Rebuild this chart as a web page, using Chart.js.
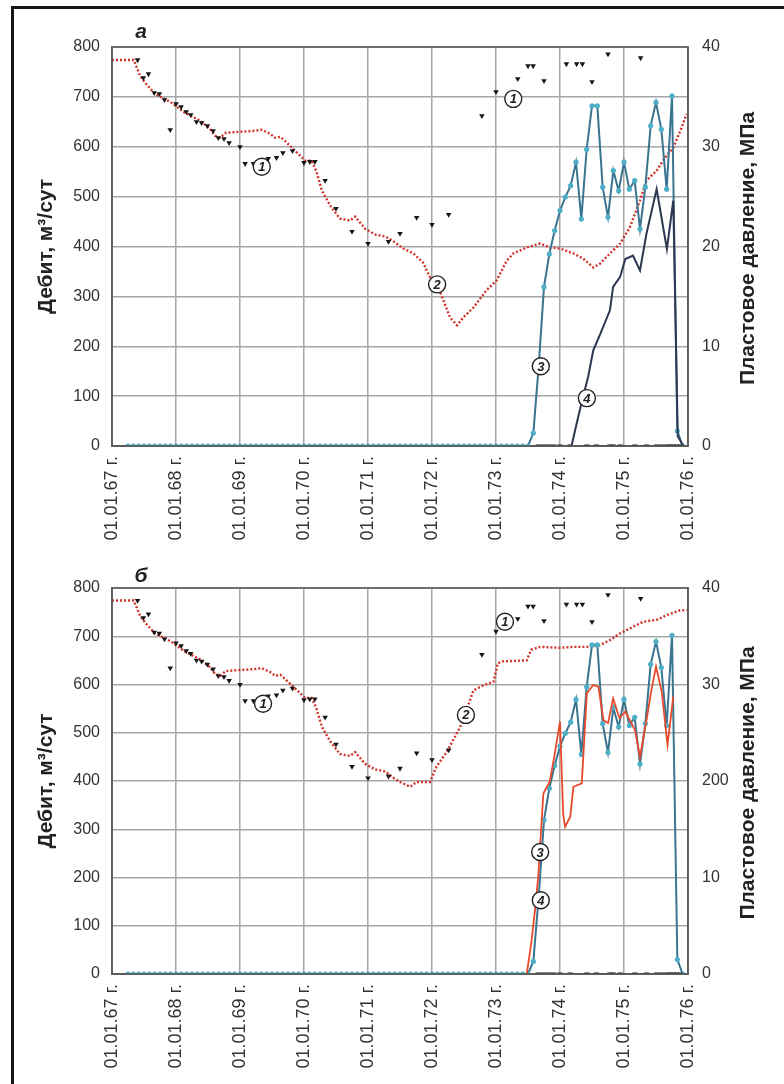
<!DOCTYPE html>
<html>
<head>
<meta charset="utf-8">
<script src="https://cdn.jsdelivr.net/npm/chart.js@4.4.1/dist/chart.umd.min.js"></script>
<style>
  body { margin: 0; background: #fff; width: 784px; height: 1084px; position: relative; overflow: hidden; }
  #frame { position: absolute; left: 11px; top: 6px; width: 900px; height: 1200px; border-left: 3px solid #161616; border-top: 3px solid #161616; }
  canvas { position: absolute; left: 0; }
  #chartA { top: 0; }
  #chartB { top: 545px; }
</style>
</head>
<body>
<div id="frame"></div>
<canvas id="chartA" width="784" height="545"></canvas>
<canvas id="chartB" width="784" height="539"></canvas>
<script>
// x axis: years, ticks on 1 January
const yearTicks = [1967, 1968, 1969, 1970, 1971, 1972, 1973, 1974, 1975, 1976];
const xTickLabels = ['01.01.67 г.', '01.01.68 г.', '01.01.69 г.', '01.01.70 г.', '01.01.71 г.',
    '01.01.72 г.', '01.01.73 г.', '01.01.74 г.', '01.01.75 г.', '01.01.76 г.'];
const rightTickLabelsA = ['0', '10', '20', '30', '40'];
const rightTickLabelsB = ['0', '10', '200', '30', '40'];

// (1) measured reservoir pressure, MPa
const measYears = [1967.40, 1967.49, 1967.57, 1967.66, 1967.74, 1967.82, 1967.91, 1968.00, 1968.08, 1968.16,
    1968.23, 1968.32, 1968.40, 1968.49, 1968.58, 1968.66, 1968.75, 1968.83, 1969.00, 1969.08,
    1969.21, 1969.44, 1969.57, 1969.67, 1969.82, 1970.00, 1970.09, 1970.17, 1970.33, 1970.50,
    1970.75, 1971.00, 1971.32, 1971.50, 1971.76, 1972.00, 1972.26, 1972.78, 1973.00, 1973.34,
    1973.50, 1973.58, 1973.75, 1974.10, 1974.26, 1974.35, 1974.50, 1974.75, 1975.26,
    1973.66, 1973.74, 1973.82, 1973.90, 1974.00, 1974.16, 1974.42, 1974.57, 1974.78, 1974.83,
    1974.94, 1975.17, 1975.35, 1975.51, 1975.59, 1975.67, 1975.72, 1975.77, 1975.82, 1975.88];
const measMPa = [38.7, 36.9, 37.3, 35.4, 35.3, 34.7, 31.7, 34.3, 34.0, 33.5,
    33.2, 32.5, 32.4, 32.1, 31.6, 30.9, 30.8, 30.4, 30.0, 28.3,
    28.3, 28.8, 28.9, 29.4, 29.6, 28.4, 28.5, 28.5, 26.6, 23.8,
    21.5, 20.3, 20.5, 21.3, 22.9, 22.2, 23.2, 33.1, 35.5, 36.8,
    38.1, 38.1, 36.6, 38.3, 38.3, 38.3, 36.5, 39.3, 38.9,
    0, 0, 0, 0, 0, 0, 0, 0, 0, 0,
    0, 0, 0, 0, 0, 0, 0, 0, 0, 0];

// (2) modelled reservoir pressure, MPa
const modelYearsA = [1967.00, 1967.34, 1967.44, 1967.52, 1967.67, 1967.91, 1968.14, 1968.38, 1968.53, 1968.61,
    1968.69, 1968.78, 1969.00, 1969.23, 1969.34, 1969.47, 1969.55, 1969.63, 1969.70, 1969.86,
    1970.02, 1970.12, 1970.19, 1970.28, 1970.41, 1970.56, 1970.72, 1970.80, 1970.95, 1971.11,
    1971.27, 1971.38, 1971.55, 1971.71, 1971.86, 1971.97, 1972.10, 1972.18, 1972.28, 1972.39,
    1972.49, 1972.65, 1972.85, 1973.01, 1973.17, 1973.27, 1973.48, 1973.69, 1973.84, 1974.00,
    1974.21, 1974.36, 1974.52, 1974.63, 1974.78, 1974.94, 1975.09, 1975.25, 1975.35, 1975.51,
    1975.64, 1975.77, 1975.88, 1975.98];
const modelMPaA = [38.7, 38.7, 37.1, 36.4, 35.3, 34.5, 33.4, 32.6, 31.8, 31.1,
    30.9, 31.4, 31.5, 31.6, 31.7, 31.3, 30.9, 31.0, 30.6, 29.6,
    28.6, 28.6, 27.6, 25.6, 24.1, 22.8, 22.6, 23.0, 21.8, 21.2,
    21.0, 20.6, 19.8, 19.3, 18.4, 16.9, 15.8, 14.6, 12.9, 12.1,
    12.9, 13.9, 15.6, 16.6, 18.6, 19.3, 19.9, 20.3, 19.9, 19.8,
    19.3, 18.8, 17.9, 18.3, 19.3, 20.3, 21.9, 24.6, 26.6, 27.6,
    28.9, 29.9, 31.6, 33.3];
const modelYearsB = [1967.00, 1967.34, 1967.44, 1967.52, 1967.67, 1967.91, 1968.14, 1968.38, 1968.53, 1968.61,
    1968.69, 1968.78, 1969.00, 1969.23, 1969.34, 1969.47, 1969.55, 1969.63, 1969.70, 1969.86,
    1970.02, 1970.12, 1970.19, 1970.28, 1970.41, 1970.56, 1970.72, 1970.80, 1970.95, 1971.11,
    1971.27, 1971.38, 1971.50, 1971.66, 1971.76, 1971.97, 1972.07, 1972.23, 1972.44, 1972.54,
    1972.65, 1972.80, 1972.96, 1973.03, 1973.11, 1973.48, 1973.55, 1973.69, 1974.00, 1974.21,
    1974.47, 1974.63, 1974.78, 1974.94, 1975.09, 1975.30, 1975.51, 1975.67, 1975.88, 1975.98];
const modelMPaB = [38.7, 38.7, 37.1, 36.4, 35.3, 34.5, 33.4, 32.6, 31.8, 31.1,
    30.9, 31.4, 31.5, 31.6, 31.7, 31.3, 30.9, 31.0, 30.6, 29.6,
    28.6, 28.6, 27.6, 25.6, 24.1, 22.8, 22.6, 23.0, 21.8, 21.2,
    21.0, 20.4, 19.9, 19.4, 19.9, 19.9, 21.5, 23.0, 25.6, 27.4,
    29.4, 29.9, 30.3, 32.2, 32.4, 32.5, 33.6, 33.9, 33.8, 33.9,
    33.9, 34.1, 34.6, 35.3, 35.8, 36.5, 36.7, 37.2, 37.7, 37.7];

// (3) measured flow rate, m3/day, one value per month starting April 1967
const flowStartMonth = 3;
const flowMeas = [
    0, 0, 0, 0, 0, 0, 0, 0, 0, 0, 0, 0, 0, 0, 0, 0, 0, 0, 0, 0,
    0, 0, 0, 0, 0, 0, 0, 0, 0, 0, 0, 0, 0, 0, 0, 0, 0, 0, 0, 0,
    0, 0, 0, 0, 0, 0, 0, 0, 0, 0, 0, 0, 0, 0, 0, 0, 0, 0, 0, 0,
    0, 0, 0, 0, 0, 0, 0, 0, 0, 0, 0, 0, 0, 0, 0, 0,
    26, 159, 319, 385, 432, 472, 499, 522, 569, 455,
    595, 682, 682, 519, 459, 552, 512, 569, 515, 532,
    435, 519, 642, 689, 635, 515, 702, 30, 0];

// (4) calculated flow rate, m3/day
const calcYearsA = [1974.18, 1974.26, 1974.36, 1974.44, 1974.52, 1974.63, 1974.78, 1974.83, 1974.94, 1975.02,
    1975.14, 1975.25, 1975.35, 1975.51, 1975.67, 1975.77, 1975.84, 1975.93];
const calcFlowA = [0, 45, 99, 139, 192, 225, 272, 319, 339, 375,
    382, 352, 425, 515, 395, 492, 19, 0];
const calcYearsB = [1973.48, 1973.55, 1973.61, 1973.66, 1973.74, 1973.84, 1973.91, 1974.00, 1974.05, 1974.08,
    1974.16, 1974.21, 1974.34, 1974.42, 1974.52, 1974.60, 1974.68, 1974.75, 1974.83, 1974.93,
    1975.02, 1975.09, 1975.17, 1975.25, 1975.36, 1975.42, 1975.50, 1975.59, 1975.68, 1975.77];
const calcFlowB = [0, 63, 133, 202, 374, 399, 450, 523, 330, 305,
    326, 388, 395, 582, 599, 595, 526, 520, 571, 530,
    544, 526, 506, 450, 533, 582, 637, 585, 475, 575];

// circled curve numbers (year, flow-axis value)
const calloutsA = [['1', 1969.34, 560], ['1', 1973.27, 696], ['2', 1972.08, 324], ['3', 1973.70, 160], ['4', 1974.42, 96]];
const calloutsB = [['1', 1969.36, 560], ['1', 1973.14, 730], ['2', 1972.53, 537], ['3', 1973.69, 253], ['4', 1973.70, 153]];

const pts = (xs, ys) => xs.map((x, i) => ({ x: x, y: ys[i] }));
const flowPts = flowMeas.map((v, i) => ({ x: 1967 + (flowStartMonth + i) / 12, y: v }));

const FONT = "'Liberation Sans', Arial, sans-serif";

const decor = {
    id: 'decor',
    afterDatasetsDraw(chart, args, opts) {
        const ctx = chart.ctx;
        const a = chart.chartArea;
        const xs = chart.scales.x, ys = chart.scales.y;
        ctx.save();
        ctx.strokeStyle = '#5c5c5c';
        ctx.lineWidth = 1.6;
        ctx.strokeRect(a.left, a.top, a.right - a.left, a.bottom - a.top);

        opts.callouts.forEach(c => {
            const px = xs.getPixelForValue(c[1]);
            const py = ys.getPixelForValue(c[2]);
            ctx.beginPath();
            ctx.arc(px, py, 8.5, 0, Math.PI * 2);
            ctx.fillStyle = '#fff';
            ctx.fill();
            ctx.lineWidth = 1.4;
            ctx.strokeStyle = '#222';
            ctx.stroke();
            ctx.fillStyle = '#222';
            ctx.font = 'italic bold 13px ' + FONT;
            ctx.textAlign = 'center';
            ctx.textBaseline = 'middle';
            ctx.fillText(c[0], px, py + 1);
        });

        ctx.fillStyle = '#222';
        ctx.font = 'italic bold 21px ' + FONT;
        ctx.textAlign = 'center';
        ctx.textBaseline = 'alphabetic';
        ctx.fillText(opts.letter, 141, opts.letterY);

        const midY = (a.top + a.bottom) / 2;
        ctx.font = 'bold 21px ' + FONT;
        ctx.textBaseline = 'middle';
        ctx.translate(46, midY);
        ctx.rotate(-Math.PI / 2);
        ctx.fillText('Дебит, м³/сут', 0, 0);
        ctx.rotate(Math.PI / 2);
        ctx.translate(-46, -midY);
        ctx.translate(748, midY + 2);
        ctx.rotate(-Math.PI / 2);
        ctx.fillText('Пластовое давление, МПа', 0, 0);
        ctx.restore();
    }
};

function makeChart(id, o) {
    const tickFont = { family: FONT, size: 16 };
    return new Chart(document.getElementById(id), {
        type: 'scatter',
        data: {
            datasets: [
                {
                    data: pts(o.calcYears, o.calcFlow),
                    showLine: true,
                    borderColor: o.calcColor,
                    borderWidth: o.calcWidth,
                    pointRadius: 0,
                    yAxisID: 'y'
                },
                {
                    data: pts(measYears, measMPa),
                    showLine: false,
                    pointStyle: 'triangle',
                    rotation: 180,
                    pointRadius: 3.2,
                    pointBorderWidth: 0,
                    pointBackgroundColor: '#161616',
                    yAxisID: 'y1'
                },
                {
                    data: flowPts,
                    showLine: true,
                    borderColor: '#3b7490',
                    borderWidth: 2,
                    pointRadius: 2.6,
                    pointBorderWidth: 0,
                    pointBackgroundColor: '#4db0c8',
                    yAxisID: 'y'
                },
                {
                    data: pts(o.modelYears, o.modelMPa),
                    showLine: true,
                    borderColor: '#d3322a',
                    borderWidth: 2.4,
                    borderDash: [2, 2],
                    pointRadius: 0,
                    yAxisID: 'y1'
                }
            ]
        },
        options: {
            responsive: false,
            animation: false,
            layout: { padding: { top: o.top, left: 0, right: 0, bottom: 0 } },
            scales: {
                x: {
                    type: 'linear',
                    min: 1967,
                    max: 1976,
                    afterBuildTicks: s => { s.ticks = yearTicks.map(v => ({ value: v })); },
                    afterFit: s => { s.height = o.xHeight; },
                    grid: { color: '#a6a6a6', lineWidth: 1.5, drawTicks: false },
                    border: { color: '#4a4a4a', width: 1.8 },
                    ticks: {
                        minRotation: 90,
                        maxRotation: 90,
                        padding: 10,
                        color: '#333',
                        font: { family: FONT, size: 18 },
                        callback: v => xTickLabels[yearTicks.indexOf(Math.round(v))]
                    }
                },
                y: {
                    position: 'left',
                    min: 0,
                    max: 800,
                    afterFit: s => { s.width = 112; },
                    grid: { color: '#a6a6a6', lineWidth: 1.5, drawTicks: false },
                    border: { color: '#5c5c5c', width: 1.6 },
                    ticks: { stepSize: 100, padding: 12, color: '#333', font: tickFont }
                },
                y1: {
                    position: 'right',
                    min: 0,
                    max: 40,
                    afterFit: s => { s.width = 96; },
                    grid: { drawOnChartArea: false, drawTicks: false },
                    border: { color: '#5c5c5c', width: 1.6 },
                    ticks: {
                        stepSize: 10,
                        padding: 14,
                        color: '#333',
                        font: tickFont,
                        callback: v => o.rightLabels[Math.round(v / 10)]
                    }
                }
            },
            plugins: {
                legend: { display: false },
                tooltip: { enabled: false },
                decor: { callouts: o.callouts, letter: o.letter, letterY: o.letterY }
            }
        },
        plugins: [decor]
    });
}

makeChart('chartA', {
    top: 47, xHeight: 99, letter: 'а', letterY: 38,
    calcYears: calcYearsA, calcFlow: calcFlowA, calcColor: '#2d3752', calcWidth: 2,
    modelYears: modelYearsA, modelMPa: modelMPaA,
    rightLabels: rightTickLabelsA, callouts: calloutsA
});
makeChart('chartB', {
    top: 43, xHeight: 110, letter: 'б', letterY: 37,
    calcYears: calcYearsB, calcFlow: calcFlowB, calcColor: '#ea4a2c', calcWidth: 1.8,
    modelYears: modelYearsB, modelMPa: modelMPaB,
    rightLabels: rightTickLabelsB, callouts: calloutsB
});
</script>
</body>
</html>
